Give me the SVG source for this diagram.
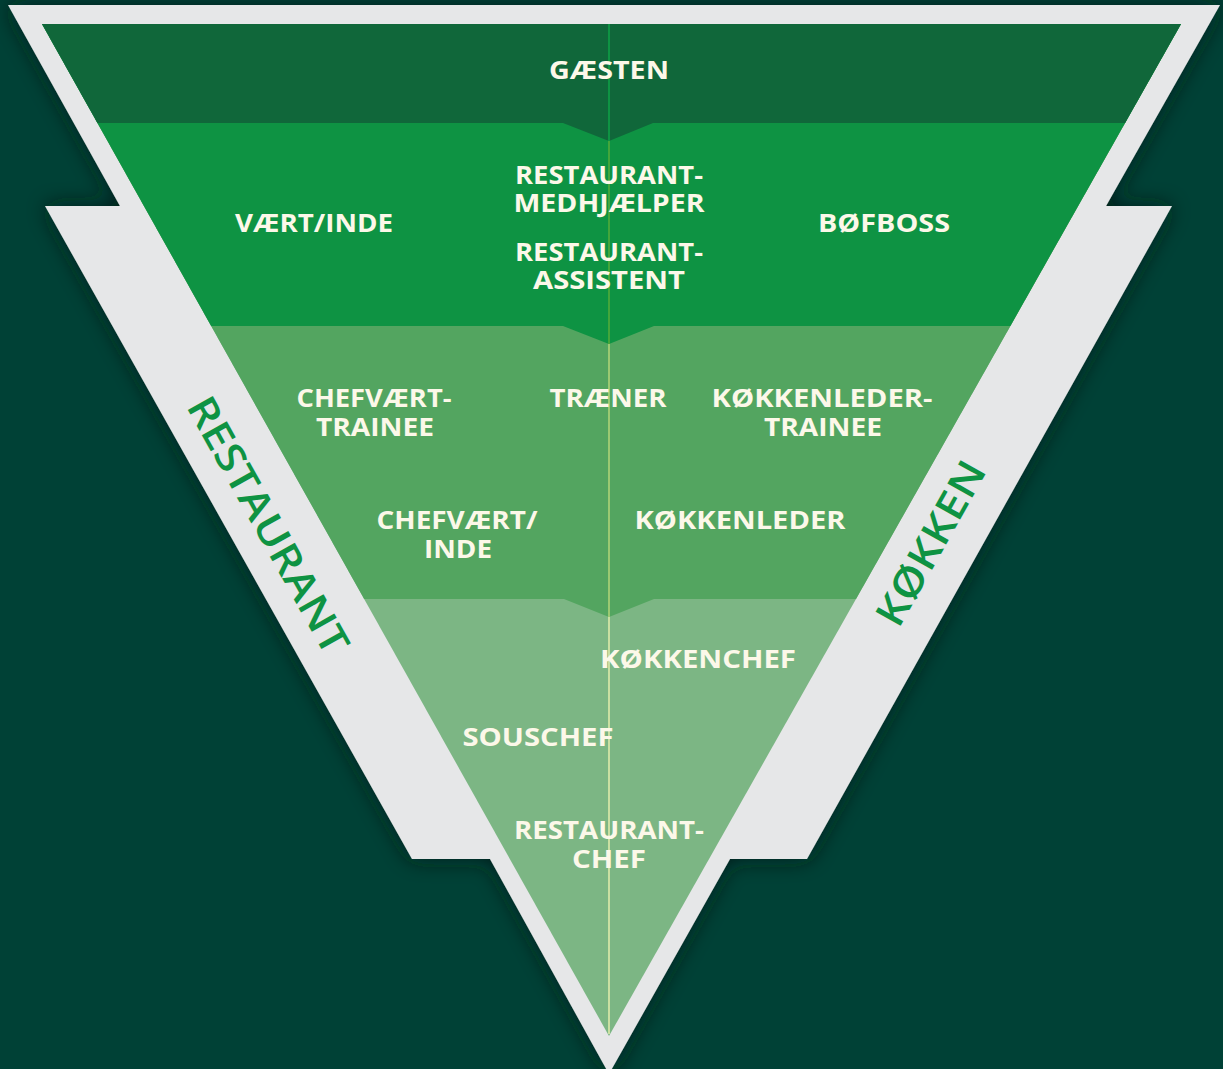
<svg xmlns="http://www.w3.org/2000/svg" width="1223" height="1069" viewBox="0 0 1223 1069">
  <defs>
    <style>
      .lbl { font-family: "Open Sans", "Liberation Sans", sans-serif; font-weight: 700; font-size: 25.5px; fill: #fcf8e9; text-anchor: middle; }
      .side { font-family: "Open Sans", "Liberation Sans", sans-serif; font-weight: 600; font-size: 40px; fill: #0e9343; text-anchor: middle; }
    </style>
    <filter id="edgeShade" x="-10%" y="-10%" width="120%" height="120%">
      <feGaussianBlur in="SourceAlpha" stdDeviation="11" result="blur"/>
      <feFlood flood-color="#001a15" flood-opacity="0.85"/>
      <feComposite in2="blur" operator="in" result="shade"/>
      <feMerge>
        <feMergeNode in="shade"/>
        <feMergeNode in="SourceGraphic"/>
      </feMerge>
    </filter>
    <clipPath id="inner">
      <polygon points="42,24 1181,24 609,1036"/>
    </clipPath>
  </defs>

  <!-- background -->
  <rect x="0" y="0" width="1223" height="1069" fill="#004136"/>

  <!-- grey frame with notched sides -->
  <g id="frame" filter="url(#edgeShade)">
    <path d="M 8 5 L 1220 5 L 1106 206 L 1172 206 L 807 859 L 730 859 L 609 1074 L 490 859 L 412 859 L 45 206 L 120 206 Z" fill="#e6e7e8"/>
  </g>

  <!-- green levels of the inverted pyramid -->
  <g id="levels" clip-path="url(#inner)">
    <rect x="0" y="0" width="1223" height="1069" fill="#7cb684"/>
    <polygon points="0,0 1223,0 1223,599 654,599 609,617 564,599 0,599" fill="#53a560"/>
    <polygon points="0,0 1223,0 1223,326 654,326 609,344 563,326 0,326" fill="#0e9343"/>
    <polygon points="0,0 1223,0 1223,123 653,123 609,141 563,123 0,123" fill="#10673a"/>
  </g>

  <!-- centre divider -->
  <g id="connectors" stroke-width="2" fill="none">
    <line x1="609" y1="24" x2="609" y2="141" stroke="#0e9343"/>
    <line x1="609" y1="141" x2="609" y2="344" stroke="#44a63b"/>
    <line x1="609" y1="344" x2="609" y2="617" stroke="#9bc972"/>
    <line x1="609" y1="617" x2="609" y2="1034" stroke="#cadfa2"/>
  </g>

  <!-- role labels -->
  <g id="gaesten"><text class="lbl" x="609" y="79" textLength="120" lengthAdjust="spacingAndGlyphs">GÆSTEN</text></g>
  <g id="restaurant-medhjaelper">
    <text class="lbl" x="609" y="183.5" textLength="188" lengthAdjust="spacingAndGlyphs">RESTAURANT-</text>
    <text class="lbl" x="609" y="212" textLength="191" lengthAdjust="spacingAndGlyphs">MEDHJÆLPER</text>
  </g>
  <g id="restaurant-assistent">
    <text class="lbl" x="609" y="260.5" textLength="188" lengthAdjust="spacingAndGlyphs">RESTAURANT-</text>
    <text class="lbl" x="609" y="289" textLength="152" lengthAdjust="spacingAndGlyphs">ASSISTENT</text>
  </g>
  <g id="vaert-inde"><text class="lbl" x="314" y="232" textLength="158" lengthAdjust="spacingAndGlyphs">VÆRT/INDE</text></g>
  <g id="boefboss"><text class="lbl" x="884" y="232" textLength="132" lengthAdjust="spacingAndGlyphs">BØFBOSS</text></g>
  <g id="chefvaert-trainee">
    <text class="lbl" x="374" y="407" textLength="155" lengthAdjust="spacingAndGlyphs">CHEFVÆRT-</text>
    <text class="lbl" x="375" y="436" textLength="118" lengthAdjust="spacingAndGlyphs">TRAINEE</text>
  </g>
  <g id="traener"><text class="lbl" x="608" y="407" textLength="117" lengthAdjust="spacingAndGlyphs">TRÆNER</text></g>
  <g id="koekkenleder-trainee">
    <text class="lbl" x="822" y="407" textLength="221" lengthAdjust="spacingAndGlyphs">KØKKENLEDER-</text>
    <text class="lbl" x="823" y="436" textLength="118" lengthAdjust="spacingAndGlyphs">TRAINEE</text>
  </g>
  <g id="chefvaert-inde">
    <text class="lbl" x="457" y="529" textLength="161" lengthAdjust="spacingAndGlyphs">CHEFVÆRT/</text>
    <text class="lbl" x="458" y="558" textLength="68" lengthAdjust="spacingAndGlyphs">INDE</text>
  </g>
  <g id="koekkenleder"><text class="lbl" x="740" y="529" textLength="211" lengthAdjust="spacingAndGlyphs">KØKKENLEDER</text></g>
  <g id="koekkenchef"><text class="lbl" x="698" y="668" textLength="196" lengthAdjust="spacingAndGlyphs">KØKKENCHEF</text></g>
  <g id="souschef"><text class="lbl" x="538" y="746" textLength="151" lengthAdjust="spacingAndGlyphs">SOUSCHEF</text></g>
  <g id="restaurantchef">
    <text class="lbl" x="609" y="839" textLength="190" lengthAdjust="spacingAndGlyphs">RESTAURANT-</text>
    <text class="lbl" x="609" y="868" textLength="74" lengthAdjust="spacingAndGlyphs">CHEF</text>
  </g>

  <!-- side labels along the grey frame -->
  <g id="side-restaurant" transform="translate(256 532) rotate(60.8)">
    <text class="side" x="0" y="0" textLength="288" lengthAdjust="spacingAndGlyphs">RESTAURANT</text>
  </g>
  <g id="side-koekken" transform="translate(943 550) rotate(-60.8)">
    <text class="side" x="0" y="0" textLength="182" lengthAdjust="spacingAndGlyphs">KØKKEN</text>
  </g>
</svg>
